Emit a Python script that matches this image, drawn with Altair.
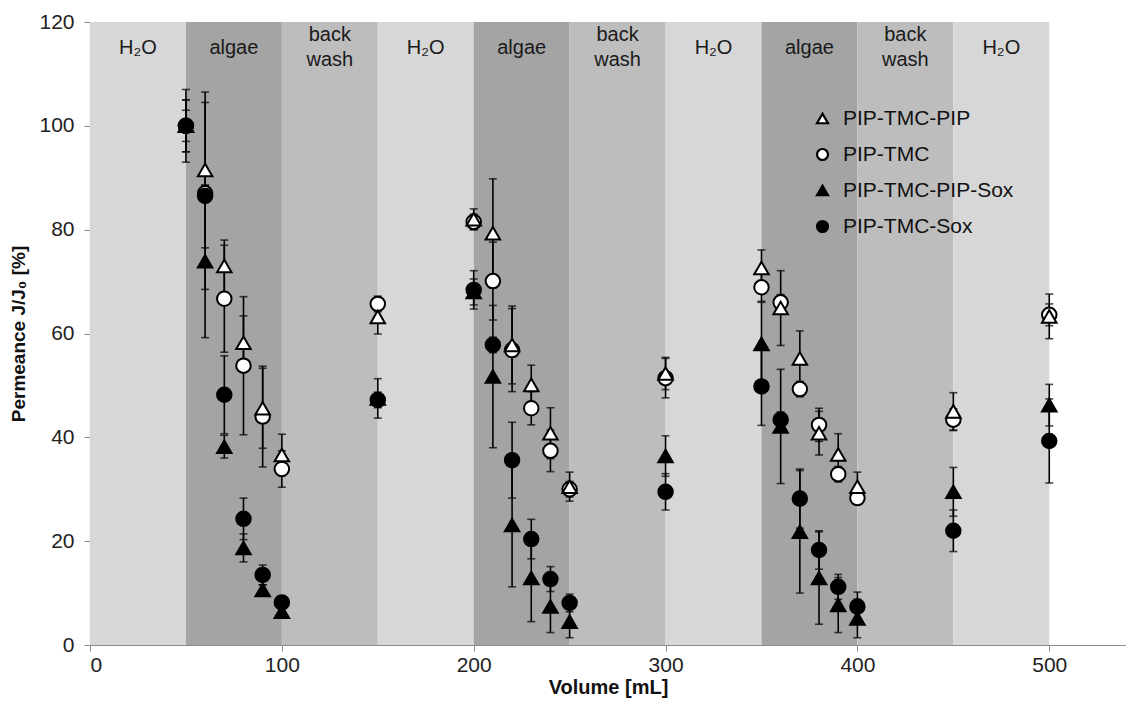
import altair as alt
import pandas as pd

volumes = [50, 60, 70, 80, 90, 100, 150, 200, 210, 220, 230, 240, 250,
           300, 350, 360, 370, 380, 390, 400, 450, 500]

series_names = ["PIP-TMC-PIP", "PIP-TMC", "PIP-TMC-PIP-Sox", "PIP-TMC-Sox"]

pip_tmc_pip = [100, 91.5, 73, 58.2, 45.6, 36.6, 63.2, 82, 79.3, 57.8, 50.1, 40.8, 30.5,
               52.3, 72.6, 64.9, 55.2, 40.8, 36.7, 30.5, 45, 63.3]
pip_tmc_pip_err = [7, 15, 5, 5.2, 7.7, 4, 3.3, 2, 10.5, 7.5, 3.8, 4.9, 2.8,
                   3.1, 3.5, 7.2, 5.3, 4.2, 4, 2.8, 3.6, 4.3]

pip_tmc = [100, 87, 66.7, 53.8, 44, 33.9, 65.7, 81.5, 70.1, 56.8, 45.6, 37.4, 30,
           51.4, 68.9, 66, 49.3, 42.4, 32.9, 28.3, 43.4, 63.6]
pip_tmc_err = [5, 1.5, 10.3, 13.3, 9.7, 3.5, 1.5, 1.5, 7.5, 8, 3.2, 4, 1.5,
               3.8, 2.7, 1.5, 1.5, 3.2, 1.5, 1, 2.1, 2.1]

pip_tmc_pip_sox = [100, 73.9, 38.2, 18.7, 10.6, 6.4, 47.5, 68, 51.7, 23.1, 12.9, 7.4, 4.5,
                   36.4, 58, 42.1, 21.8, 12.9, 7.7, 5.1, 29.5, 46.2]
pip_tmc_pip_sox_err = [3, 14.7, 2.2, 2.7, 1, 1, 3.8, 2.5, 13.7, 11.9, 8.4, 5, 3.1,
                       3.9, 8, 11, 11.8, 8.9, 5.3, 3.7, 4.7, 4]

pip_tmc_sox = [100, 86.5, 48.2, 24.3, 13.5, 8.2, 47.2, 68.4, 57.8, 35.6, 20.4, 12.7, 8.1,
               29.5, 49.8, 43.4, 28.2, 18.3, 11.2, 7.4, 22, 39.3]
pip_tmc_sox_err = [5, 18, 7.5, 4, 1.9, 1.2, 1.5, 3.7, 1.5, 7.3, 3.8, 2.4, 1.7,
                   3.5, 7.5, 1.5, 5.7, 3.7, 2.4, 2.8, 4, 8.1]

phase_start = [0, 50, 100, 150, 200, 250, 300, 350, 400, 450]
phase_end = [50, 100, 150, 200, 250, 300, 350, 400, 450, 500]
phase_label = ["H₂O", "algae", "back\nwash", "H₂O", "algae", "back\nwash",
               "H₂O", "algae", "back\nwash", "H₂O"]
phase_kind = ["water", "algae", "backwash", "water", "algae", "backwash",
              "water", "algae", "backwash", "water"]

kind_names = ["water", "algae", "backwash"]
kind_colors = ["#d7d7d7", "#a4a4a4", "#bdbdbd"]

series_shapes = ["triangle-up", "circle", "triangle-up", "circle"]
series_fills = ["white", "white", "black", "black"]
series_strokes = ["black", "black", "black", "black"]
draw_order = ["PIP-TMC", "PIP-TMC-PIP", "PIP-TMC-PIP-Sox", "PIP-TMC-Sox"]

Y_MIN, Y_MAX = 0, 120
LABEL_Y = 115.0
FONT = "Liberation Sans"

values = {
    "PIP-TMC-PIP": (pip_tmc_pip, pip_tmc_pip_err),
    "PIP-TMC": (pip_tmc, pip_tmc_err),
    "PIP-TMC-PIP-Sox": (pip_tmc_pip_sox, pip_tmc_pip_sox_err),
    "PIP-TMC-Sox": (pip_tmc_sox, pip_tmc_sox_err),
}

rows = []
for name in draw_order:
    vals, errs = values[name]
    for v, val, e in zip(volumes, vals, errs):
        rows.append({"vol": v, "series": name, "val": val,
                     "lo": val - e, "hi": val + e})
df = pd.DataFrame(rows)

caps = pd.concat([
    df[["vol", "series", "lo"]].rename(columns={"lo": "cap"}),
    df[["vol", "series", "hi"]].rename(columns={"hi": "cap"}),
])

bands = pd.DataFrame({
    "start": phase_start, "end": phase_end, "label": phase_label,
    "kind": phase_kind,
    "mid": [(a + b) / 2 for a, b in zip(phase_start, phase_end)],
    "ymin": [Y_MIN] * len(phase_start), "ymax": [Y_MAX] * len(phase_start),
    "ylab": [LABEL_Y] * len(phase_start),
})

xscale = alt.Scale(domain=[0, 540], nice=False, zero=False)
yscale = alt.Scale(domain=[Y_MIN, Y_MAX], nice=False)

xaxis = alt.Axis(values=[0, 100, 200, 300, 400, 500], title="Volume [mL]",
                 grid=False, labelFontSize=21, titleFontSize=20,
                 titleFontWeight="bold", labelPadding=3, titlePadding=2,
                 tickSize=6)
yaxis = alt.Axis(values=[0, 20, 40, 60, 80, 100, 120], title="Permeance J/J₀ [%]",
                 grid=False, labelFontSize=21, titleFontSize=19,
                 titleFontWeight="bold", labelPadding=10, titlePadding=10,
                 tickSize=6)

band_layer = alt.Chart(bands).mark_rect().encode(
    x=alt.X("start:Q", scale=xscale, axis=xaxis),
    x2="end:Q",
    y=alt.Y("ymin:Q", scale=yscale, axis=yaxis),
    y2="ymax:Q",
    color=alt.Color("kind:N", scale=alt.Scale(domain=kind_names, range=kind_colors),
                    legend=None),
)

text_common = dict(fontSize=20, font=FONT, color="#1a1a1a", lineBreak="\n",
                   lineHeight=25, baseline="middle", align="center")

band_text_single = alt.Chart(bands).transform_filter(
    alt.datum.kind != "backwash"
).mark_text(**text_common).encode(
    x=alt.X("mid:Q", scale=xscale),
    y=alt.Y("ylab:Q", scale=yscale),
    text="label:N",
)

band_text_double = alt.Chart(bands).transform_filter(
    alt.datum.kind == "backwash"
).mark_text(dy=-12.5, **text_common).encode(
    x=alt.X("mid:Q", scale=xscale),
    y=alt.Y("ylab:Q", scale=yscale),
    text="label:N",
)

rules = alt.Chart(df).mark_rule(color="black", strokeWidth=1.6).encode(
    x=alt.X("vol:Q", scale=xscale),
    y=alt.Y("lo:Q", scale=yscale),
    y2="hi:Q",
)

cap_layer = alt.Chart(caps).mark_tick(
    color="black", orient="horizontal", size=8, thickness=1.6
).encode(
    x=alt.X("vol:Q", scale=xscale),
    y=alt.Y("cap:Q", scale=yscale),
)

leg = alt.Legend(
    title=None, orient="none", legendX=722, legendY=86,
    labelFontSize=21, labelFont=FONT, labelColor="#111111", labelLimit=0,
    symbolSize=120, symbolStrokeWidth=2.2,
    rowPadding=14, labelOffset=10,
)

points = alt.Chart(df).mark_point(
    filled=True, strokeWidth=2, size=210, opacity=1
).encode(
    x=alt.X("vol:Q", scale=xscale),
    y=alt.Y("val:Q", scale=yscale),
    shape=alt.Shape("series:N", scale=alt.Scale(domain=series_names, range=series_shapes),
                    legend=leg),
    fill=alt.Fill("series:N", scale=alt.Scale(domain=series_names, range=series_fills),
                  legend=leg),
    stroke=alt.Stroke("series:N", scale=alt.Scale(domain=series_names, range=series_strokes),
                      legend=leg),
)

chart = alt.layer(band_layer, band_text_single, band_text_double, rules, cap_layer,
                  points).resolve_scale(
    color="independent"
).properties(
    width=1036, height=623,
    autosize=alt.AutoSizeParams(type="none"),
    padding={"left": 82, "top": 14, "right": 0, "bottom": 60},
).configure_axis(
    labelFont=FONT, titleFont=FONT, labelColor="#222222", titleColor="#111111",
    domainColor="#8c8c8c", tickColor="#8c8c8c", domainWidth=1.2,
).configure_view(
    stroke=None
)

chart.save("out.html", embed_options={"renderer": "svg", "actions": False})
